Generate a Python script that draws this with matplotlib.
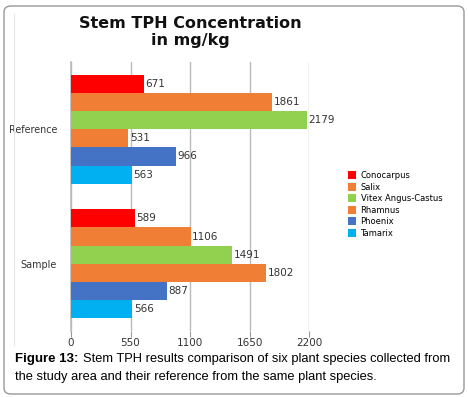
import matplotlib.pyplot as plt
import numpy as np
from matplotlib.patches import FancyBboxPatch

# data
groups = ["Reference", "Sample"]
species = ["Conocarpus", "Salix", "Vitex Angus-Castus", "Rhamnus", "Phoenix", "Tamarix"]
reference_vals = [671, 1861, 2179, 531, 966, 563]
sample_vals = [589, 1106, 1491, 1802, 887, 566]
colors = ["#ff0000", "#f07f35", "#92d050", "#f07f35", "#4472c4", "#00b0f0"]
xticks = [0, 550, 1100, 1650, 2200]

fig = plt.figure(figsize=(4.68, 3.97), dpi=100)

# outer rounded frame
frame = FancyBboxPatch((4 / 468, 3 / 397), 460 / 468, 388 / 397,
                       boxstyle="round,pad=0,rounding_size=0.015",
                       transform=fig.transFigure, fill=False,
                       edgecolor="#999999", linewidth=1.0)
fig.patches.append(frame)
# faint inner chart edge
fig.add_artist(plt.Line2D([14 / 468, 14 / 468], [1 - 345 / 397, 1 - 14 / 397],
                          transform=fig.transFigure, color="#e6e6e6", linewidth=0.8))

ax = fig.add_axes([71 / 468, 1 - 331 / 397, 238 / 468, 269 / 397])

n = len(species)
bar_h = 0.135
values = [reference_vals, sample_vals]
for g, vals in enumerate(values):
    for i, (sp, v, c) in enumerate(zip(species, vals, colors)):
        y = g - (n - 1) / 2 * bar_h + i * bar_h
        ax.barh(y, v, height=bar_h, color=c, label=sp if g == 0 else None, zorder=3)
        ax.text(v + 15, y, str(v), va="center", ha="left", fontsize=7.5,
                color="#333333", zorder=4)

ax.set_ylim(1.5, -0.5)
ax.set_xlim(0, 2200)
ax.set_xticks(xticks)
ax.set_xticklabels([str(t) for t in xticks], fontsize=7.5, color="#333333")
ax.set_yticks([0, 1])
ax.set_yticklabels(groups, fontsize=6.9, color="#333333")
ax.tick_params(axis="y", length=0, pad=10)
ax.tick_params(axis="x", length=4, color="#999999", pad=1)

ax.grid(axis="x", color="#bbbbbb", linewidth=1.0, zorder=0)
for s in ["top", "right", "bottom"]:
    ax.spines[s].set_visible(False)
ax.spines["left"].set_color("#bbbbbb")
ax.spines["left"].set_linewidth(1.2)

fig.text(190 / 468, 1 - 32 / 397, "Stem TPH Concentration\nin mg/kg",
         ha="center", va="center", fontsize=11.5, fontweight="bold",
         linespacing=1.15, color="#111111")

ax.legend(loc="center left", bbox_to_anchor=(1.15, 0.47), frameon=False,
          fontsize=6, handlelength=1.0, handleheight=1.1,
          handletextpad=0.5, labelspacing=0.3, borderaxespad=0)

cap_font = "Liberation Sans"
cap_size = 9.25
fig.text(15 / 468, 1 - 359 / 397, "Figure 13:", fontsize=9.5, fontweight="bold",
         family=cap_font, va="center", ha="left")
fig.text(83 / 468, 1 - 359 / 397,
         "Stem TPH results comparison of six plant species collected from",
         fontsize=cap_size, family=cap_font, va="center", ha="left")
fig.text(15 / 468, 1 - 377 / 397,
         "the study area and their reference from the same plant species.",
         fontsize=cap_size, family=cap_font, va="center", ha="left")

fig.savefig("out.png", dpi=100)
